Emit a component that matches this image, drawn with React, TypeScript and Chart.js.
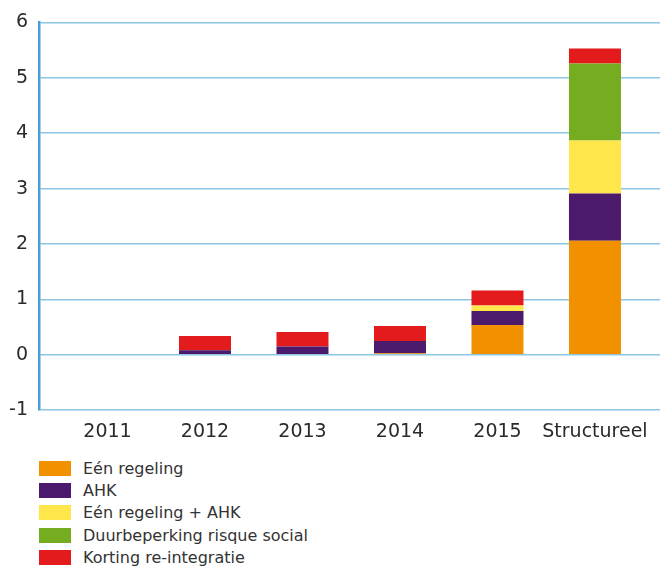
import React, { useEffect, useRef } from "react";
import { Chart, registerables } from "chart.js";

Chart.register(...registerables);

const categories = ["2011", "2012", "2013", "2014", "2015", "Structureel"];
const yTicks = [-1, 0, 1, 2, 3, 4, 5, 6];

const eenRegeling = [0, 0, 0, 0.03, 0.54, 2.06];
const ahk = [0, 0.08, 0.15, 0.22, 0.25, 0.85];
const eenRegelingAhk = [0, 0, 0, 0, 0.1, 0.96];
const duurbeperking = [0, 0, 0, 0, 0, 1.39];
const korting = [0, 0.26, 0.26, 0.27, 0.27, 0.27];

const seriesNames = [
  "Eén regeling",
  "AHK",
  "Eén regeling + AHK",
  "Duurbeperking risque social",
  "Korting re-integratie",
];
const seriesValues = [eenRegeling, ahk, eenRegelingAhk, duurbeperking, korting];
const seriesColors = ["#F29100", "#4C1A6D", "#FFE64A", "#76AC20", "#E31B1C"];

const FONT = "'DejaVu Sans', Verdana, sans-serif";

export default function App() {
  const ref = useRef<HTMLCanvasElement | null>(null);

  useEffect(() => {
    document.body.style.margin = "0";
    const canvas = ref.current;
    if (!canvas) return;
    const chart = new Chart(canvas, {
      type: "bar",
      data: {
        datasets: seriesNames.map((name, s) => ({
          label: name,
          data: seriesValues[s].map((v, i) => ({ x: i, y: v === 0 ? null : v })),
          backgroundColor: seriesColors[s],
          borderWidth: 0,
          inflateAmount: 0,
          barThickness: 52,
        })),
      },
      options: {
        responsive: false,
        animation: false,
        layout: { padding: { top: 18, right: 2, bottom: 4, left: 0 } },
        plugins: {
          legend: { display: false },
          tooltip: { enabled: false },
        },
        scales: {
          x: {
            type: "linear",
            stacked: true,
            offset: false,
            min: -0.7026,
            max: 5.667,
            grid: { display: false, drawTicks: false },
            border: { display: false },
            afterBuildTicks: (scale: any) => {
              scale.ticks = categories.map((_, i) => ({ value: i }));
            },
            ticks: {
              autoSkip: false,
              maxRotation: 0,
              padding: 10,
              color: "#2a2a2a",
              font: { family: FONT, size: 19 },
              callback: (v: any) => categories[Math.round(Number(v))] ?? "",
            },
          },
          y: {
            stacked: true,
            min: -1,
            max: 6,
            afterFit: (scale: any) => {
              scale.width = 39;
            },
            afterBuildTicks: (scale: any) => {
              scale.ticks = yTicks.map((v) => ({ value: v }));
            },
            grid: { color: "#8CC6E3", lineWidth: 1.5, drawTicks: false },
            border: { color: "#4A9ED6", width: 2.5 },
            ticks: {
              padding: 11,
              color: "#2a2a2a",
              font: { family: FONT, size: 19 },
            },
          },
        },
      },
    });
    return () => chart.destroy();
  }, []);

  return (
    <div style={{ position: "relative", width: 662, height: 566, background: "#fff" }}>
      <canvas ref={ref} width={662} height={457} style={{ display: "block" }} />
      <div style={{ position: "absolute", left: 39, top: 457 }}>
        {seriesNames.map((name, s) => (
          <div
            key={name}
            style={{
              display: "flex",
              alignItems: "center",
              height: 22.4,
              fontFamily: FONT,
              fontSize: 16,
              color: "#333",
              whiteSpace: "nowrap",
            }}
          >
            <span
              style={{
                display: "inline-block",
                width: 32,
                height: 15,
                background: seriesColors[s],
                marginRight: 12,
              }}
            />
            {name}
          </div>
        ))}
      </div>
    </div>
  );
}
